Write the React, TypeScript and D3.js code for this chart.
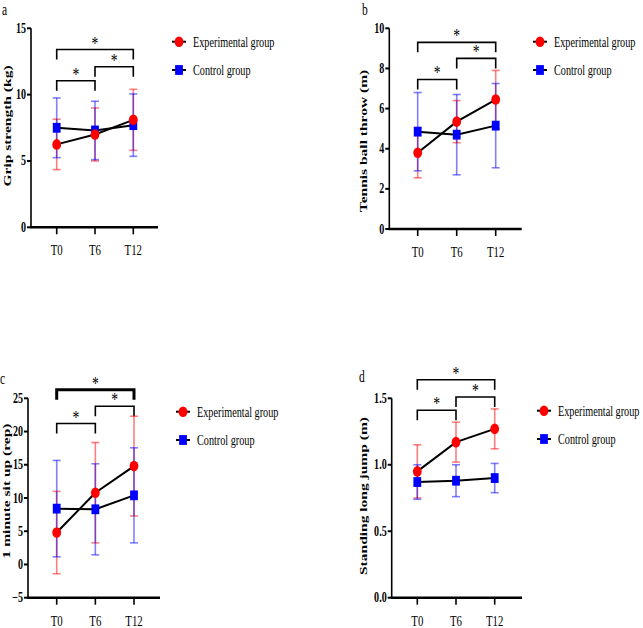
import * as React from 'react'
import * as d3 from 'd3'

const timepoints = ['T0', 'T6', 'T12']
const groupNames = ['Experimental group', 'Control group']

// grip strength (kg), mean and SD
const gripExp = [6.25, 7.0, 8.1]
const gripExpSd = [1.9, 2.0, 2.3]
const gripCon = [7.5, 7.3, 7.7]
const gripConSd = [2.25, 2.2, 2.35]

// tennis ball throw (m)
const throwExp = [3.8, 5.35, 6.45]
const throwExpSd = [1.25, 1.05, 1.45]
const throwCon = [4.85, 4.7, 5.15]
const throwConSd = [1.95, 2.0, 2.1]

// 1 minute sit up (rep)
const situpExp = [4.8, 10.8, 14.8]
const situpExpSd = [6.2, 7.55, 7.5]
const situpCon = [8.4, 8.3, 10.4]
const situpConSd = [7.25, 6.85, 7.15]

// standing long jump (m)
const jumpExp = [0.95, 1.17, 1.27]
const jumpExpSd = [0.2, 0.15, 0.15]
const jumpCon = [0.87, 0.88, 0.9]
const jumpConSd = [0.13, 0.12, 0.11]

// significance brackets: [from, to, height in data units]
const gripBrackets = [[0, 2, 13.4], [1, 2, 12.1], [0, 1, 11.05]]
const throwBrackets = [[0, 2, 9.3], [1, 2, 8.5], [0, 1, 7.45]]
const situpBrackets = [[0, 2, 26.3], [1, 2, 23.8], [0, 1, 21.2]]
const jumpBrackets = [[0, 2, 1.64], [1, 2, 1.51], [0, 1, 1.41]]

const font = "'Liberation Serif', 'Times New Roman', serif"
const SX = 0.72

const panels = [
  {
    letter: 'a', letterX: 2, letterY: 15,
    title: 'Grip strength (kg)', titleX: 11, titleY: 126,
    domain: [0, 15], ticks: [0, 5, 10, 15], fmt: d3.format('d'),
    axisX: 31, top: 28.3, bottom: 227.3, axisEnd: 158, x0: 56.7, x1: 133.3,
    exp: gripExp, expSd: gripExpSd, con: gripCon, conSd: gripConSd,
    brackets: gripBrackets, boldTop: false,
    legendX: 179, legendY: 41.7,
  },
  {
    letter: 'b', letterX: 362, letterY: 15,
    title: 'Tennis ball throw (m)', titleX: 367, titleY: 141,
    domain: [0, 10], ticks: [0, 2, 4, 6, 8, 10], fmt: d3.format('d'),
    axisX: 389.3, top: 28.3, bottom: 229, axisEnd: 521.7, x0: 417.7, x1: 495.7,
    exp: throwExp, expSd: throwExpSd, con: throwCon, conSd: throwConSd,
    brackets: throwBrackets, boldTop: false,
    legendX: 540, legendY: 41.7,
  },
  {
    letter: 'c', letterX: 0, letterY: 384,
    title: '1 minute sit up (rep)', titleX: 10, titleY: 491,
    domain: [-5, 25], ticks: [-5, 0, 5, 10, 15, 20, 25], fmt: d3.format('d'),
    axisX: 28, top: 398.3, bottom: 597.7, axisEnd: 160, x0: 56.7, x1: 134,
    exp: situpExp, expSd: situpExpSd, con: situpCon, conSd: situpConSd,
    brackets: situpBrackets, boldTop: true,
    legendX: 183, legendY: 411.7,
  },
  {
    letter: 'd', letterX: 359, letterY: 382,
    title: 'Standing long jump (m)', titleX: 367, titleY: 496,
    domain: [0, 1.5], ticks: [0, 0.5, 1.0, 1.5], fmt: d3.format('.1f'),
    axisX: 391.7, top: 398.3, bottom: 597.7, axisEnd: 522, x0: 417.3, x1: 494.7,
    exp: jumpExp, expSd: jumpExpSd, con: jumpCon, conSd: jumpConSd,
    brackets: jumpBrackets, boldTop: false,
    legendX: 544, legendY: 410.7,
  },
]

const RED = '#ff0000'
const BLUE = '#0000ff'

const Txt = ({x, y, size, anchor = 'start', weight = 'normal', rotate = false, children}) => (
  <text
    transform={`translate(${x},${y}) scale(${SX},1)${rotate ? ' rotate(-90)' : ''}`}
    fontFamily={font} fontSize={size} fontWeight={weight} textAnchor={anchor} fill="#000"
  >
    {children}
  </text>
)

const ExpMarker = ({cx, cy}) => <ellipse cx={cx} cy={cy} rx={4.4} ry={5.3} fill={RED} />
const ConMarker = ({cx, cy}) => <rect x={cx - 3.9} y={cy - 4.9} width={7.8} height={9.8} fill={BLUE} />

const Panel = ({p}) => {
  const y = d3.scaleLinear().domain(p.domain).range([p.bottom, p.top])
  const x = d3.scalePoint().domain(timepoints).range([p.x0, p.x1])
  const line = d3.line<number>().x((d, i) => x(timepoints[i])).y(d => y(d))

  const errorBars = (means, sds, color) => means.map((m, i) => {
    const cx = x(timepoints[i])
    const lo = y(m - sds[i])
    const hi = y(m + sds[i])
    return (
      <g key={i} stroke={color} strokeOpacity={0.5} strokeWidth={1.6}>
        <line x1={cx} x2={cx} y1={lo} y2={hi} />
        <line x1={cx - 4} x2={cx + 4} y1={lo} y2={lo} />
        <line x1={cx - 4} x2={cx + 4} y1={hi} y2={hi} />
      </g>
    )
  })

  return (
    <g>
      <Txt x={p.letterX} y={p.letterY} size={16}>{p.letter}</Txt>
      <Txt x={p.titleX} y={p.titleY} size={15.5} weight="bold" anchor="middle" rotate>{p.title}</Txt>

      {/* y axis */}
      <line x1={p.axisX} x2={p.axisX} y1={p.top} y2={p.bottom} stroke="#000" strokeWidth={1.6} />
      {p.ticks.map(t => (
        <g key={t}>
          <line x1={p.axisX - 4} x2={p.axisX} y1={y(t)} y2={y(t)} stroke="#000" strokeWidth={2} />
          <Txt x={p.axisX - 5} y={y(t) + 4.5} size={14} weight="bold" anchor="end">{p.fmt(t)}</Txt>
        </g>
      ))}

      {/* x axis */}
      <line x1={p.axisX - 0.8} x2={p.axisEnd} y1={p.bottom} y2={p.bottom} stroke="#000" strokeWidth={2.6} />
      {timepoints.map(t => (
        <g key={t}>
          <line x1={x(t)} x2={x(t)} y1={p.bottom} y2={p.bottom + 7} stroke="#000" strokeWidth={1.6} />
          <Txt x={x(t)} y={p.bottom + 28} size={15} anchor="middle">{t}</Txt>
        </g>
      ))}

      {/* significance brackets */}
      {p.brackets.map(([a, b, h], i) => {
        const xa = x(timepoints[a])
        const xb = x(timepoints[b])
        const by = y(h)
        const bold = p.boldTop && i === 0
        return (
          <g key={i}>
            <path d={`M${xa},${by + 10}V${by}H${xb}V${by + 10}`} fill="none" stroke="#000"
              strokeWidth={bold ? 3 : 1.6} />
            <Txt x={(xa + xb) / 2} y={by} size={19} anchor="middle">*</Txt>
          </g>
        )
      })}

      {errorBars(p.exp, p.expSd, RED)}
      {errorBars(p.con, p.conSd, BLUE)}

      <path d={line(p.exp)} fill="none" stroke="#000" strokeWidth={2} />
      <path d={line(p.con)} fill="none" stroke="#000" strokeWidth={2} />

      {p.con.map((v, i) => <ConMarker key={i} cx={x(timepoints[i])} cy={y(v)} />)}
      {p.exp.map((v, i) => <ExpMarker key={i} cx={x(timepoints[i])} cy={y(v)} />)}

      {/* legend */}
      {groupNames.map((name, i) => {
        const ly = p.legendY + i * 28.3
        return (
          <g key={name}>
            <line x1={p.legendX - 7} x2={p.legendX + 7} y1={ly} y2={ly} stroke="#000" strokeWidth={2} />
            {i === 0 ? <ExpMarker cx={p.legendX} cy={ly} /> : <ConMarker cx={p.legendX} cy={ly} />}
            <Txt x={p.legendX + 14} y={ly + 5} size={14.2}>{name}</Txt>
          </g>
        )
      })}
    </g>
  )
}

export default function App() {
  return (
    <svg width={643} height={628} style={{position: 'absolute', left: 0, top: 0, background: '#fff'}}>
      {panels.map(p => <Panel key={p.letter} p={p} />)}
    </svg>
  )
}
